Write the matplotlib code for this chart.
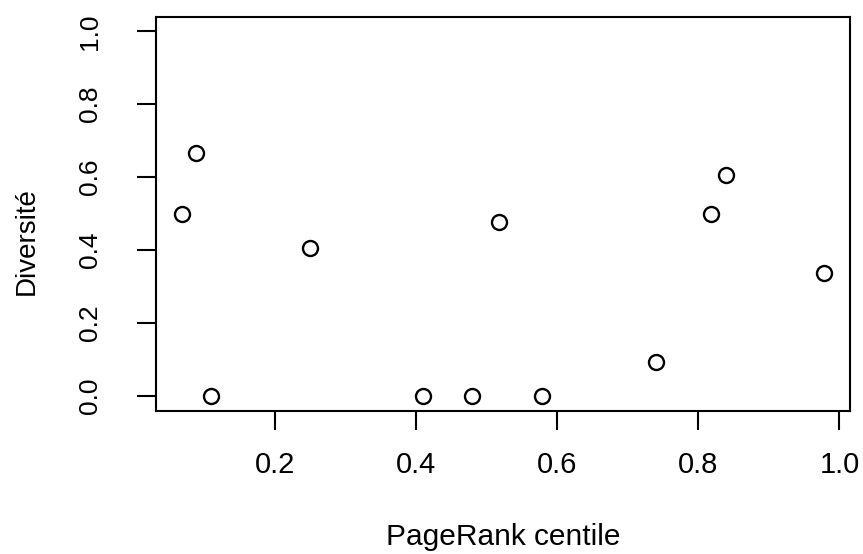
import matplotlib
matplotlib.use("Agg")
import matplotlib.pyplot as plt
import numpy as np

# values
centile = [0.068, 0.088, 0.109, 0.250, 0.410, 0.480, 0.518, 0.579, 0.740, 0.818, 0.839, 0.978]
diversite = [0.500, 0.667, 0.000, 0.407, 0.000, 0.000, 0.478, 0.000, 0.093, 0.500, 0.606, 0.338]
xticks = [0.2, 0.4, 0.6, 0.8, 1.0]
yticks = [0.0, 0.2, 0.4, 0.6, 0.8, 1.0]

plt.rcParams['font.family'] = ['Liberation Sans', 'DejaVu Sans']

fig = plt.figure(figsize=(8.63, 5.54), dpi=100)
ax = fig.add_axes([0.1808, 0.2587, 0.8036, 0.7112])

ax.plot(centile, diversite, 'o', markersize=10.8, markerfacecolor='none',
        markeredgecolor='black', markeredgewidth=1.7)

# R style axis extension (4%)
xr = max(centile) - min(centile)
ax.set_xlim(min(centile) - 0.04 * xr, max(centile) + 0.04 * xr)
ax.set_ylim(-0.04, 1.04)

ax.set_xticks(xticks)
ax.set_xticklabels(['%.1f' % v for v in xticks])
ax.set_yticks(yticks)
ax.set_yticklabels(['%.1f' % v for v in yticks], rotation=90, va='center')

for s in ax.spines.values():
    s.set_linewidth(1.5)
ax.tick_params(axis='both', length=13.7, width=1.5)
ax.tick_params(axis='x', pad=15, labelsize=21)
ax.tick_params(axis='y', pad=25, labelsize=19)

ax.set_xlabel('PageRank centile', fontsize=21.5, labelpad=32)
ax.set_ylabel('Diversité', fontsize=20)
ax.yaxis.set_label_coords(-0.168, 0.43)

fig.savefig('out.png', dpi=100)
